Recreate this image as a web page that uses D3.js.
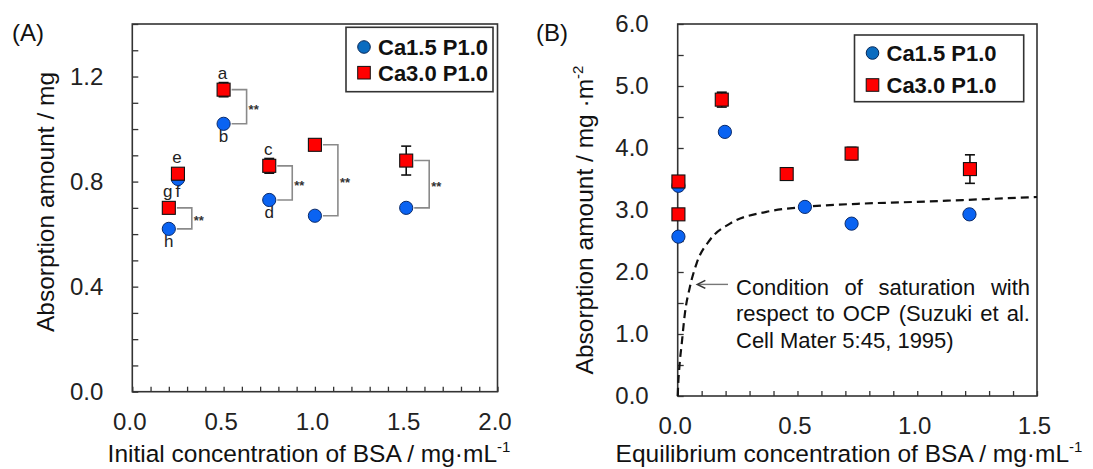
<!DOCTYPE html>
<html>
<head>
<meta charset="utf-8">
<script src="https://cdn.jsdelivr.net/npm/d3@7"></script>
<style>
  body { margin: 0; background: #fff; }
  svg { display: block; font-family: Arial, "Liberation Sans", sans-serif; }
</style>
</head>
<body>
<svg></svg>
<script>
// ---- panel A : initial concentration ----
let concA = [0.2, 0.25, 0.5, 0.75, 1.0, 1.5];
let ca15A = [0.62, 0.81, 1.02, 0.73, 0.67, 0.70];
let ca30A = [0.70, 0.83, 1.15, 0.86, 0.94, 0.88];
let ca30AErr = [0.01, 0.01, 0.027, 0.028, 0.01, 0.055];
let lettersTopA = ["g", "e", "a", "c", "", ""];
let lettersBottomA = ["h", "f", "b", "d", "", ""];
let bracketIdxA = [0, 2, 3, 4, 5];

// ---- panel B : equilibrium concentration ----
let eq15B = [0.003, 0.003, 0.197, 0.531, 0.726, 1.218];
let ca15B = [2.57, 3.39, 4.26, 3.05, 2.78, 2.93];
let eq30B = [0.003, 0.003, 0.184, 0.455, 0.726, 1.22];
let ca30B = [2.93, 3.46, 4.78, 3.58, 3.91, 3.66];
let ca30BErr = [0.03, 0.03, 0.12, 0.09, 0.1, 0.23];

// saturation curve
let satX = [0, 0.002, 0.007, 0.017, 0.03, 0.051, 0.079, 0.135, 0.218, 0.37, 0.531, 0.75, 0.985, 1.25, 1.5];
let satY = [0, 0.18, 0.47, 0.85, 1.33, 1.76, 2.14, 2.52, 2.78, 2.97, 3.05, 3.1, 3.13, 3.17, 3.21];

let ticksA_x = [0, 0.5, 1.0, 1.5, 2.0];
let ticksA_y = [0, 0.4, 0.8, 1.2];
let ticksB_x = [0, 0.5, 1.0, 1.5];
let ticksB_y = [0, 1, 2, 3, 4, 5, 6];

let seriesNames = ["Ca1.5 P1.0", "Ca3.0 P1.0"];

let width = 1093;
let height = 469;
let blue = "#0a63f2";
let legendBlue = "#0b6cc0";
let red = "#ff0000";
let frameColor = "#333";

let svg = d3.select("svg").attr("width", width).attr("height", height);
svg.append("rect").attr("width", width).attr("height", height).attr("fill", "#fff");

let xA = d3.scaleLinear().domain([0, 2]).range([132.3, 497.5]);
let yA = d3.scaleLinear().domain([0, 1.4]).range([391.7, 24]);
let xB = d3.scaleLinear().domain([0, 1.5]).range([677.7, 1037]);
let yB = d3.scaleLinear().domain([0, 6]).range([396, 24]);

let drawAxes = (x, y, xMinor, yMinor, xLabels, yLabels) => {
    let g = svg.append("g");
    // minor / major ticks pointing inward
    g.append("g")
     .attr("transform", "translate(0," + y.range()[0] + ")")
     .call(d3.axisBottom(x).tickValues(xMinor).tickSize(-5).tickFormat(""))
     .call(a => a.select(".domain").remove())
     .selectAll("line").attr("stroke", frameColor).attr("stroke-width", 1.3);
    g.append("g")
     .attr("transform", "translate(" + x.range()[0] + ",0)")
     .call(d3.axisLeft(y).tickValues(yMinor).tickSize(-6).tickFormat(""))
     .call(a => a.select(".domain").remove())
     .selectAll("line").attr("stroke", frameColor).attr("stroke-width", 1.3);
    // labels
    g.append("g")
     .attr("transform", "translate(-3," + y.range()[0] + ")")
     .call(d3.axisBottom(x).tickValues(xLabels).tickSize(0).tickPadding(21).tickFormat(d3.format(".1f")))
     .call(a => a.select(".domain").remove())
     .selectAll("text").attr("font-size", 24).attr("font-family", "Arial, 'Liberation Sans', sans-serif").attr("fill", "#222");
    g.append("g")
     .attr("transform", "translate(" + x.range()[0] + ",0)")
     .call(d3.axisLeft(y).tickValues(yLabels).tickSize(0).tickPadding(29).tickFormat(d3.format(".1f")))
     .call(a => a.select(".domain").remove())
     .selectAll("text").attr("font-size", 24).attr("font-family", "Arial, 'Liberation Sans', sans-serif").attr("fill", "#222");
    // frame
    g.append("rect")
     .attr("x", x.range()[0]).attr("y", y.range()[1])
     .attr("width", x.range()[1] - x.range()[0])
     .attr("height", y.range()[0] - y.range()[1])
     .attr("fill", "none").attr("stroke", frameColor).attr("stroke-width", 1.6);
}

let drawErrors = (xs, ys, errs, x, y) => {
    let g = svg.append("g").attr("stroke", "#111").attr("stroke-width", 1.6);
    xs.forEach((v, i) => {
        let cx = x(v);
        let t = y(ys[i] + errs[i]);
        let b = y(ys[i] - errs[i]);
        g.append("line").attr("x1", cx).attr("x2", cx).attr("y1", t).attr("y2", b);
        g.append("line").attr("x1", cx - 5).attr("x2", cx + 5).attr("y1", t).attr("y2", t);
        g.append("line").attr("x1", cx - 5).attr("x2", cx + 5).attr("y1", b).attr("y2", b);
    });
}

let drawCircles = (xs, ys, x, y) => {
    svg.append("g").selectAll("circle")
       .data(xs)
       .enter()
       .append("circle")
       .attr("cx", (d) => x(d))
       .attr("cy", (d, i) => y(ys[i]))
       .attr("r", 6.6)
       .attr("fill", blue)
       .attr("stroke", "#0a2a6a")
       .attr("stroke-width", 1);
}

let drawSquares = (xs, ys, x, y) => {
    svg.append("g").selectAll("rect")
       .data(xs)
       .enter()
       .append("rect")
       .attr("x", (d) => x(d) - 6.5)
       .attr("y", (d, i) => y(ys[i]) - 6.5)
       .attr("width", 13)
       .attr("height", 13)
       .attr("fill", red)
       .attr("stroke", "#111")
       .attr("stroke-width", 1.1);
}

let drawLegend = (bx, by, bw, bh, rowY) => {
    let g = svg.append("g");
    g.append("rect").attr("x", bx).attr("y", by).attr("width", bw).attr("height", bh)
     .attr("fill", "#fff").attr("stroke", "#333").attr("stroke-width", 1.6);
    g.append("circle").attr("cx", bx + 18).attr("cy", rowY[0] - 8).attr("r", 6.3)
     .attr("fill", legendBlue).attr("stroke", "#0a2a5a").attr("stroke-width", 1);
    g.append("rect").attr("x", bx + 18 - 6.3).attr("y", rowY[1] - 8 - 6.3).attr("width", 12.6).attr("height", 12.6)
     .attr("fill", red).attr("stroke", "#111").attr("stroke-width", 1);
    seriesNames.forEach((s, i) => {
        g.append("text").attr("x", bx + 32).attr("y", rowY[i])
         .attr("font-size", 22).attr("font-weight", "bold").attr("fill", "#111").text(s);
    });
}

let drawTitles = (label, lx, xTitle, xCenter, yTitle, ySup, yCenter, yBase) => {
    svg.append("text").attr("x", lx).attr("y", 41).attr("font-size", 24).attr("fill", "#111").text(label);
    let t = svg.append("text").attr("x", xCenter).attr("y", 462).attr("text-anchor", "middle")
               .attr("font-size", 24.5).attr("fill", "#111");
    t.append("tspan").text(xTitle);
    t.append("tspan").attr("font-size", 15).attr("dy", -10).text("-1");
    let ty = svg.append("text").attr("transform", "translate(" + yBase + "," + yCenter + ") rotate(-90)")
                .attr("text-anchor", "middle").attr("font-size", 24.5).attr("fill", "#111");
    ty.append("tspan").text(yTitle);
    if (ySup) ty.append("tspan").attr("font-size", 15).attr("dy", -10).text(ySup);
}

// ================= panel A =================
drawAxes(xA, yA, d3.range(0, 20.5).map(d => d / 10), d3.range(0, 14.5).map(d => d / 10), ticksA_x, ticksA_y);

// significance brackets
let br = svg.append("g");
bracketIdxA.forEach((i) => {
    let cx = xA(concA[i]);
    let yt = yA(ca30A[i]);
    let yb = yA(ca15A[i]);
    br.append("path")
      .attr("d", "M" + (cx + 8) + "," + yt + "H" + (cx + 23) + "V" + yb + "H" + (cx + 8))
      .attr("fill", "none").attr("stroke", "#8a8a8a").attr("stroke-width", 1.6);
    br.append("text").attr("x", cx + 25).attr("y", (yt + yb) / 2 + 7)
      .attr("font-size", 13).attr("font-weight", "bold").attr("fill", "#333").text("**");
});

// letters
let lt = svg.append("g").attr("font-size", 17).attr("fill", "#222").attr("text-anchor", "middle");
concA.forEach((c, i) => {
    if (lettersTopA[i]) lt.append("text").attr("x", xA(c) - 1).attr("y", yA(ca30A[i]) - 11).text(lettersTopA[i]);
    if (lettersBottomA[i]) lt.append("text").attr("x", xA(c)).attr("y", yA(ca15A[i]) + 18).text(lettersBottomA[i]);
});

drawCircles(concA, ca15A, xA, yA);
drawErrors(concA, ca30A, ca30AErr, xA, yA);
drawSquares(concA, ca30A, xA, yA);
drawLegend(346, 27.3, 147, 64.4, [55, 80.7]);
drawTitles("(A)", 12, "Initial concentration of BSA / mg\u00b7mL", 309, "Absorption amount / mg", null, 202, 54);

// ================= panel B =================
drawAxes(xB, yB, d3.range(0, 15.5).map(d => d / 10), d3.range(0, 12.5).map(d => d / 2), ticksB_x, ticksB_y);

let satLine = d3.line()
    .x((d) => xB(d))
    .y((d, i) => yB(satY[i]))
    .curve(d3.curveMonotoneX);
svg.append("path")
   .attr("d", satLine(satX))
   .attr("fill", "none").attr("stroke", "#111").attr("stroke-width", 2.2)
   .attr("stroke-dasharray", "8,5");

// annotation arrow (head drawn at the left end)
let ax0 = xB(0.21), ax1 = xB(0.082), ay = yB(1.8);
svg.append("line")
   .attr("x1", ax0).attr("x2", ax1 + 1).attr("y1", ay).attr("y2", ay)
   .attr("stroke", "#777").attr("stroke-width", 1.4);
svg.append("path")
   .attr("d", "M" + (ax1 + 8) + "," + (ay - 4) + "L" + ax1 + "," + ay + "L" + (ax1 + 8) + "," + (ay + 4))
   .attr("fill", "none").attr("stroke", "#333").attr("stroke-width", 1.6);

let noteLines = [
    ["Condition", "of", "saturation", "with"],
    ["respect", "to", "OCP", "(Suzuki", "et", "al."]
];
let noteLast = "Cell Mater 5:45, 1995)";
let note = svg.append("g").attr("font-size", 22).attr("fill", "#111");
let nx0 = 736, nx1 = 1030;
noteLines.forEach((words, li) => {
    let yy = 295 + li * 26.3;
    let nodes = words.map((w) => note.append("text").attr("y", yy).text(w));
    let widths = nodes.map((n) => n.node().getComputedTextLength());
    let gap = (nx1 - nx0 - d3.sum(widths)) / (words.length - 1);
    let cur = nx0;
    nodes.forEach((n, k) => { n.attr("x", cur); cur += widths[k] + gap; });
});
note.append("text").attr("x", nx0).attr("y", 295 + 2 * 26.3).text(noteLast);

drawCircles(eq15B, ca15B, xB, yB);
drawErrors(eq30B, ca30B, ca30BErr, xB, yB);
drawSquares(eq30B, ca30B, xB, yB);
drawLegend(854.5, 35, 169.2, 66.7, [61, 93]);
drawTitles("(B)", 536, "Equilibrium concentration of BSA / mg\u00b7mL", 849, "Absorption amount / mg \u00b7m", "-2", 220, 593);
</script>
</body>
</html>
